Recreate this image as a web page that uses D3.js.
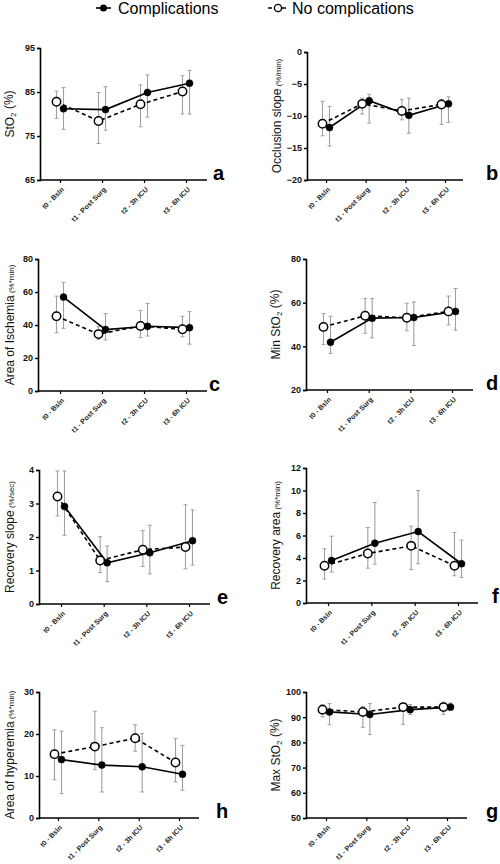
<!DOCTYPE html>
<html><head><meta charset="utf-8">
<script src="https://cdn.jsdelivr.net/npm/d3@7"></script>
<style>body{margin:0;background:#fff}svg{display:block}text{font-family:"Liberation Sans",Arial,sans-serif}</style>
</head><body>
<svg id="c" width="500" height="864"></svg>
<script>
const categories = ["t0 - Bsln","t1 - Post Surg","t2 - 3h ICU","t3 - 6h ICU"];
const legendLabels = ["Complications","No complications"];

// a: StO2 (%)
const aComp = [81.2, 81.0, 84.9, 87.0], aCompHi = [86.0, 86.2, 88.9, 89.9], aCompLo = [76.5, 76.3, 79.3, 80.0];
const aNo = [82.8, 78.4, 82.2, 85.1], aNoHi = [85.2, 84.9, 86.6, 88.7], aNoLo = [79.0, 73.3, 77.1, 80.0];
const aTicks = [65, 75, 85, 95];
// b: Occlusion slope
const bComp = [-11.8, -7.6, -9.9, -8.1], bCompHi = [-8.5, -6.6, -7.2, -7.0], bCompLo = [-14.7, -11.1, -12.7, -11.0];
const bNo = [-11.2, -8.1, -9.2, -8.2], bNoHi = [-7.7, -7.2, -7.4, -7.4], bNoLo = [-13.1, -9.7, -10.6, -11.3];
const bTicks = [-20, -15, -10, -5, 0];
// c: Area of Ischemia
const cComp = [56.9, 37.2, 39.2, 38.4], cCompHi = [65.8, 46.9, 53.0, 48.1], cCompLo = [38.0, 30.9, 33.3, 28.4];
const cNo = [45.3, 34.5, 39.4, 37.4], cNoHi = [57.5, 39.0, 48.9, 45.3], cNoLo = [35.3, 31.3, 32.3, 32.9];
const cTicks = [0, 20, 40, 60, 80];
// d: Min StO2
const dComp = [41.9, 52.9, 53.2, 56.0], dCompHi = [53.8, 61.9, 60.3, 66.5], dCompLo = [36.8, 43.9, 40.4, 47.4];
const dNo = [48.9, 54.0, 53.1, 56.0], dNoHi = [55.0, 61.9, 59.8, 63.0], dNoLo = [40.8, 46.0, 47.1, 49.8];
const dTicks = [20, 40, 60, 80];
// e: Recovery slope
const eComp = [2.91, 1.23, 1.53, 1.89], eCompHi = [3.97, 1.73, 2.35, 2.81], eCompLo = [2.05, 0.67, 0.90, 1.16];
const eNo = [3.21, 1.30, 1.62, 1.70], eNoHi = [3.97, 2.01, 2.19, 2.96], eNoLo = [2.63, 0.94, 1.12, 1.05];
const eTicks = [0, 1, 2, 3, 4];
// f: Recovery area
const fComp = [3.78, 5.32, 6.35, 3.49], fCompHi = [5.94, 8.93, 10.0, 5.59], fCompLo = [2.75, 3.45, 3.49, 2.28];
const fNo = [3.31, 4.40, 5.08, 3.31], fNoHi = [4.82, 6.71, 6.83, 6.27], fNoLo = [2.13, 3.1, 2.96, 2.42];
const fTicks = [0, 2, 4, 6, 8, 10, 12];
// h: Area of hyperemia
const hComp = [13.9, 12.6, 12.2, 10.4], hCompHi = [20.7, 21.5, 20.1, 17.3], hCompLo = [5.8, 6.2, 6.2, 6.6];
const hNo = [15.2, 17.0, 19.0, 13.2], hNoHi = [21.0, 25.4, 22.2, 18.9], hNoLo = [9.1, 11.5, 15.9, 8.6];
const hTicks = [0, 10, 20, 30];
// g: Max StO2
const gComp = [92.1, 91.1, 93.0, 94.0], gCompHi = [95.4, 95.4, 95.0, 95.6], gCompLo = [87.0, 83.1, 91.1, 92.7];
const gNo = [93.0, 92.1, 94.0, 94.0], gNoHi = [95.0, 94.2, 95.4, 96.0], gNoLo = [90.1, 86.0, 87.2, 91.1];
const gTicks = [50, 60, 70, 80, 90, 100];

const panels = [
  {id:"a", comp:[aComp,aCompHi,aCompLo], no:[aNo,aNoHi,aNoLo], ticks:aTicks,
   title:[["StO",12],["2",8,true],[" (%)",12]], L:40,R:207,t0:60,t3:186,T:48,B:180,tx:8,lx:213,ly:180},
  {id:"b", comp:[bComp,bCompHi,bCompLo], no:[bNo,bNoHi,bNoLo], ticks:bTicks,
   title:[["Occlusion slope",12],[" (%/min)",8]], L:307,R:463,t0:326,t3:445,T:52,B:180,tx:275,lx:486,ly:180},
  {id:"c", comp:[cComp,cCompHi,cCompLo], no:[cNo,cNoHi,cNoLo], ticks:cTicks,
   title:[["Area of Ischemia",12],[" (%*min)",8]], L:38,R:207,t0:60,t3:186,T:259,B:391,tx:8,lx:209,ly:391},
  {id:"d", comp:[dComp,dCompHi,dCompLo], no:[dNo,dNoHi,dNoLo], ticks:dTicks,
   title:[["Min StO",12],["2",8,true],[" (%)",12]], L:306,R:473,t0:327,t3:452,T:259,B:390,tx:274,lx:486,ly:390},
  {id:"e", comp:[eComp,eCompHi,eCompLo], no:[eNo,eNoHi,eNoLo], ticks:eTicks,
   title:[["Recovery slope",12],[" (%/sec)",8]], L:39,R:210,t0:61,t3:189,T:470,B:604,tx:8,lx:217,ly:604},
  {id:"f", comp:[fComp,fCompHi,fCompLo], no:[fNo,fNoHi,fNoLo], ticks:fTicks,
   title:[["Recovery area",12],[" (%*min)",8]], L:306,R:478,t0:328,t3:458,T:468,B:603,tx:274,lx:492,ly:603},
  {id:"h", comp:[hComp,hCompHi,hCompLo], no:[hNo,hNoHi,hNoLo], ticks:hTicks,
   title:[["Area of hyperemia",12],[" (%*min)",8]], L:39,R:199,t0:58,t3:179,T:692,B:818,tx:8,lx:216,ly:818},
  {id:"g", comp:[gComp,gCompHi,gCompLo], no:[gNo,gNoHi,gNoLo], ticks:gTicks,
   title:[["Max StO",12],["2",8,true],[" (%)",12]], L:306,R:467,t0:326,t3:447,T:692,B:818,tx:274,lx:486,ly:818}
];

const svg = d3.select("#c");
const dodge = 3.5;

// legend
const lg = svg.append("g");
lg.append("line").attr("x1",96).attr("x2",111).attr("y1",8).attr("y2",8).attr("stroke","#000").attr("stroke-width",1.6);
lg.append("circle").attr("cx",103.5).attr("cy",8).attr("r",3.5).attr("fill","#000");
lg.append("text").attr("x",118).attr("y",14).attr("font-size",16).text(legendLabels[0]);
lg.append("line").attr("x1",268).attr("x2",287).attr("y1",8).attr("y2",8).attr("stroke","#000").attr("stroke-width",1.6).attr("stroke-dasharray","4,3");
lg.append("circle").attr("cx",278).attr("cy",8).attr("r",3.6).attr("fill","#fff").attr("stroke","#000").attr("stroke-width",1.4);
lg.append("text").attr("x",292).attr("y",14).attr("font-size",16).text(legendLabels[1]);

panels.forEach(p => {
  const g = svg.append("g");
  const x = d3.scalePoint().domain(categories).range([p.t0, p.t3]);
  const y = d3.scaleLinear().domain([p.ticks[0], p.ticks[p.ticks.length-1]]).range([p.B, p.T]);

  // axes
  const yAxis = g.append("g").attr("transform",`translate(${p.L},0)`)
    .call(d3.axisLeft(y).tickValues(p.ticks).tickFormat(d3.format("d")).tickSize(3).tickPadding(2));
  yAxis.select(".domain").attr("stroke","#000").attr("stroke-width",1.6);
  yAxis.selectAll(".tick line").attr("stroke","#000").attr("stroke-width",1.4);
  yAxis.selectAll(".tick text").attr("font-size",9).attr("font-weight","bold").attr("fill","#111")
    .style("font-family",'"Liberation Sans",Arial,sans-serif');

  const xAxis = g.append("g").attr("transform",`translate(0,${p.B})`)
    .call(d3.axisBottom(x).tickSize(3).tickSizeOuter(0));
  xAxis.select(".domain").attr("d",`M${p.L},0H${p.R}`).attr("stroke","#000").attr("stroke-width",1.6);
  xAxis.selectAll(".tick line").attr("stroke","#000").attr("stroke-width",1.2);
  xAxis.selectAll(".tick text").attr("font-size",7).attr("font-weight","bold").attr("fill","#222")
    .style("font-family",'"Liberation Sans",Arial,sans-serif')
    .attr("text-anchor","end").attr("y",0).attr("dy",0)
    .attr("transform","translate(4,10) rotate(-45)");

  // series
  const series = [
    {v:p.no, off:-dodge, dash:"4,3", open:true},
    {v:p.comp, off:dodge, dash:null, open:false}
  ];
  series.forEach(s => {
    const [m, hi, lo] = s.v;
    const eb = g.append("g");
    categories.forEach((c,i) => {
      const cx = x(c) + s.off;
      eb.append("line").attr("x1",cx).attr("x2",cx).attr("y1",y(hi[i])).attr("y2",y(lo[i]))
        .attr("stroke","#a0a0a0").attr("stroke-width",1.1);
      [hi[i], lo[i]].forEach(v => eb.append("line").attr("x1",cx-2).attr("x2",cx+2)
        .attr("y1",y(v)).attr("y2",y(v)).attr("stroke","#a0a0a0").attr("stroke-width",1));
    });
  });
  series.forEach(s => {
    const [m] = s.v;
    const line = d3.line().x((d,i)=>x(categories[i])+s.off).y(d=>y(d));
    g.append("path").datum(m).attr("d",line).attr("fill","none").attr("stroke","#000")
      .attr("stroke-width",1.6).attr("stroke-dasharray",s.dash);
  });
  series.slice().reverse().forEach(s => {
    const [m] = s.v;
    g.selectAll(null).data(m).enter().append("circle")
      .attr("cx",(d,i)=>x(categories[i])+s.off).attr("cy",d=>y(d))
      .attr("r", s.open?4.2:3.5)
      .attr("fill", s.open?"#fff":"#000").attr("stroke","#000").attr("stroke-width", s.open?1.5:0.5);
  });

  // y title
  const t = g.append("text").attr("transform",`translate(${p.tx},${(p.T+p.B)/2}) rotate(-90)`)
    .attr("text-anchor","middle").attr("dy","0.35em").attr("fill","#111");
  let shifted = false;
  p.title.forEach(([txt,sz,sub]) => {
    const ts = t.append("tspan").attr("font-size",sz).text(txt);
    if (sub) { ts.attr("dy","0.35em"); shifted = true; }
    else if (shifted) { ts.attr("dy","-0.25em"); shifted = false; }
  });

  // panel letter
  g.append("text").attr("x",p.lx).attr("y",p.ly).attr("font-size",20).attr("font-weight","bold").text(p.id);
});
</script>
</body></html>
